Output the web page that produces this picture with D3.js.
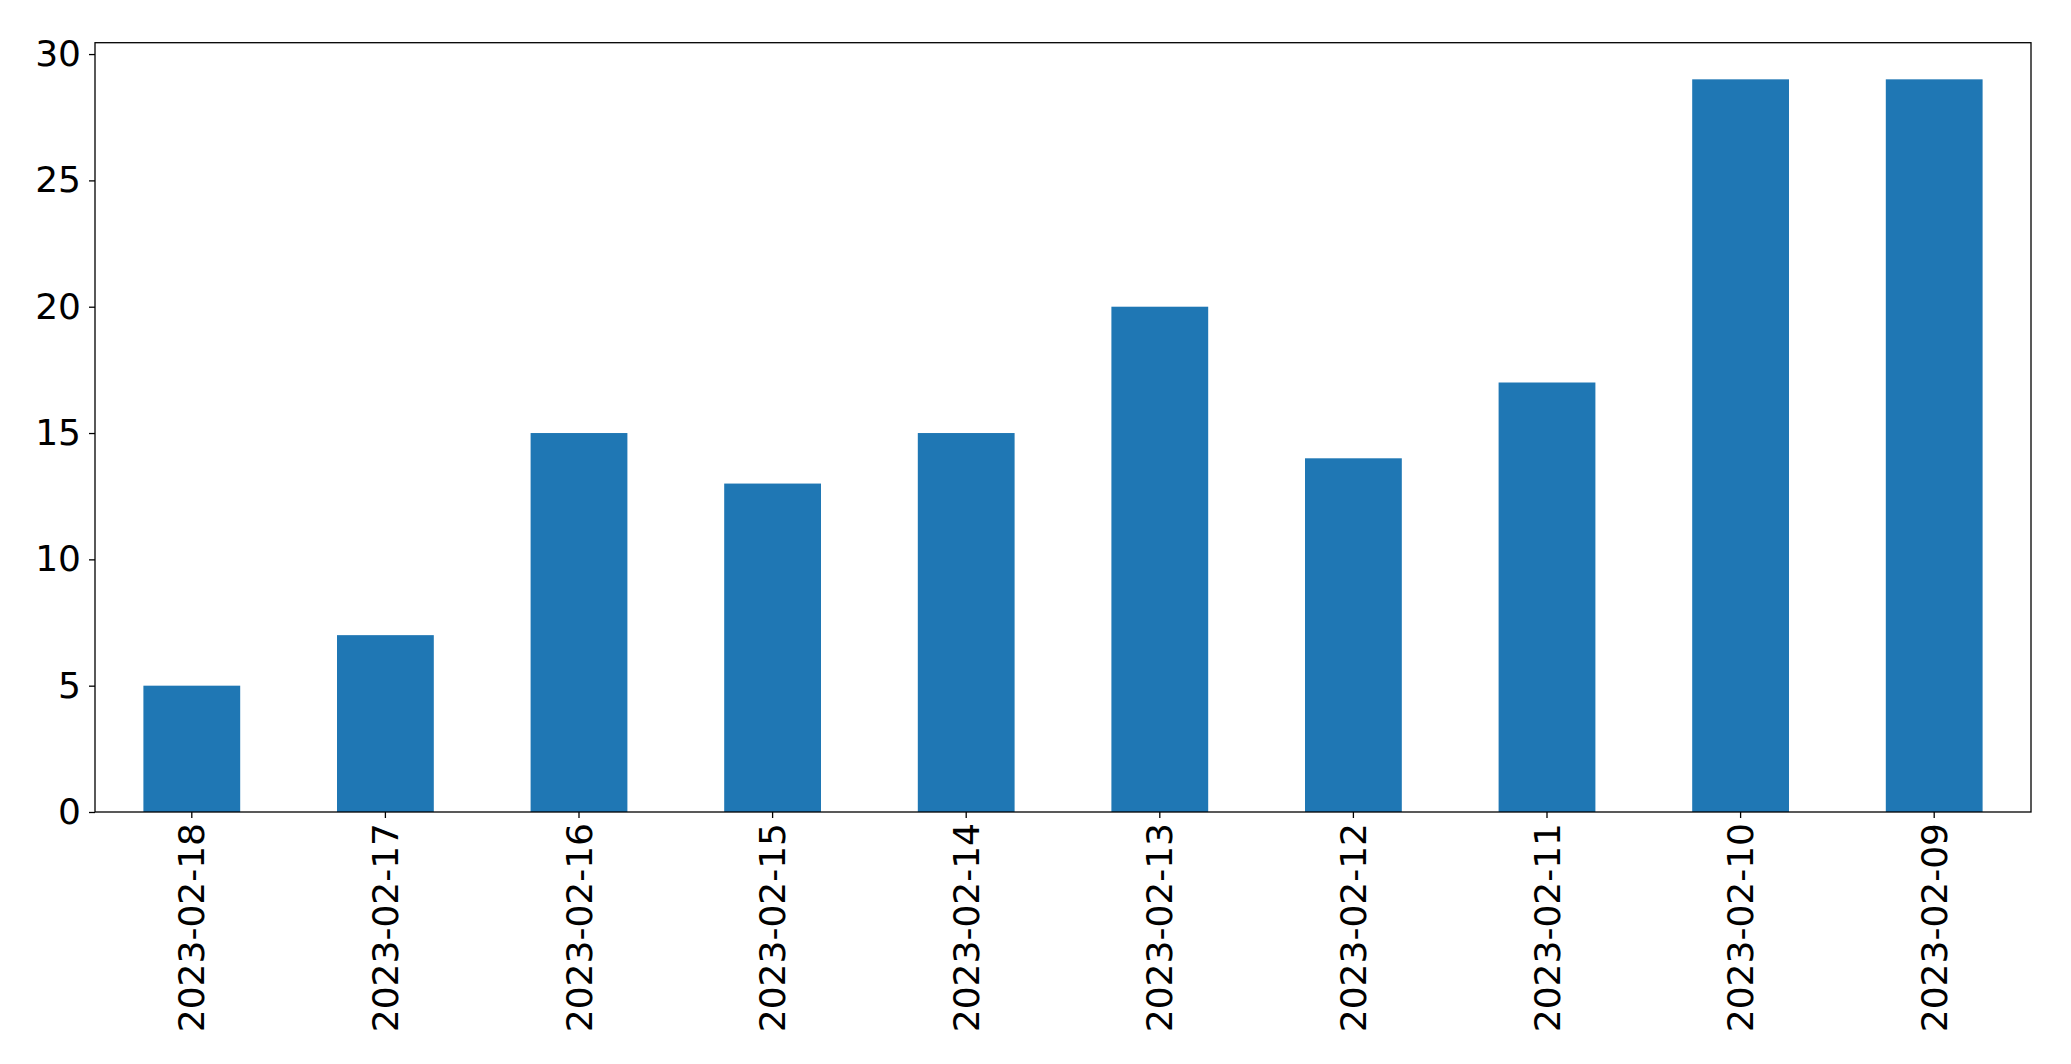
<!DOCTYPE html>
<html>
<head>
<meta charset="utf-8">
<script src="https://cdn.jsdelivr.net/npm/d3@7"></script>
<style>
  html, body { margin: 0; padding: 0; background: #ffffff; }
  svg { display: block; }
</style>
</head>
<body>
<svg id="chart" width="2071" height="1064"></svg>
<script>
const categories = ["2023-02-18","2023-02-17","2023-02-16","2023-02-15","2023-02-14","2023-02-13","2023-02-12","2023-02-11","2023-02-10","2023-02-09"];
const values = [5, 7, 15, 13, 15, 20, 14, 17, 29, 29];
const yTicks = [0, 5, 10, 15, 20, 25, 30];

const W = 2071, H = 1064;
const margin = { left: 95, right: 40, top: 42.7, bottom: 252 };
const plotW = W - margin.left - margin.right;
const plotH = H - margin.top - margin.bottom;

const svg = d3.select("#chart");
const g = svg.append("g").attr("transform", `translate(${margin.left},${margin.top})`);

const x = d3.scaleBand().domain(categories).range([0, plotW]).paddingInner(0.5).paddingOuter(0.25);
const yMax = d3.max(values) * 1.05;
const y = d3.scaleLinear().domain([0, yMax]).range([plotH, 0]);

g.selectAll("rect.bar").data(values).enter().append("rect")
  .attr("class", "bar")
  .attr("x", (d, i) => x(categories[i]))
  .attr("width", x.bandwidth())
  .attr("y", d => y(d))
  .attr("height", d => y(0) - y(d))
  .attr("fill", "#1f77b4");

const fontFam = "'DejaVu Sans', sans-serif";

const yAxis = g.append("g").call(d3.axisLeft(y).tickValues(yTicks).tickSize(6).tickPadding(8).tickFormat(d3.format("d")));
yAxis.select(".domain").remove();
yAxis.selectAll("line").attr("stroke", "#000").attr("stroke-width", 1.3);
yAxis.selectAll("text").attr("font-size", 36).attr("font-family", fontFam).attr("fill", "#000");

const xAxis = g.append("g").attr("transform", `translate(0,${plotH})`)
  .call(d3.axisBottom(x).tickSize(6).tickPadding(10));
xAxis.select(".domain").remove();
xAxis.selectAll("line").attr("stroke", "#000").attr("stroke-width", 1.3);
xAxis.selectAll("text")
  .attr("font-size", 36).attr("font-family", fontFam).attr("fill", "#000")
  .attr("transform", "rotate(-90)")
  .attr("text-anchor", "end")
  .attr("x", -11).attr("y", 0).attr("dy", "0.35em");

g.append("rect").attr("x", 0).attr("y", 0).attr("width", plotW).attr("height", plotH)
  .attr("fill", "none").attr("stroke", "#000").attr("stroke-width", 1.3);
</script>
</body>
</html>
